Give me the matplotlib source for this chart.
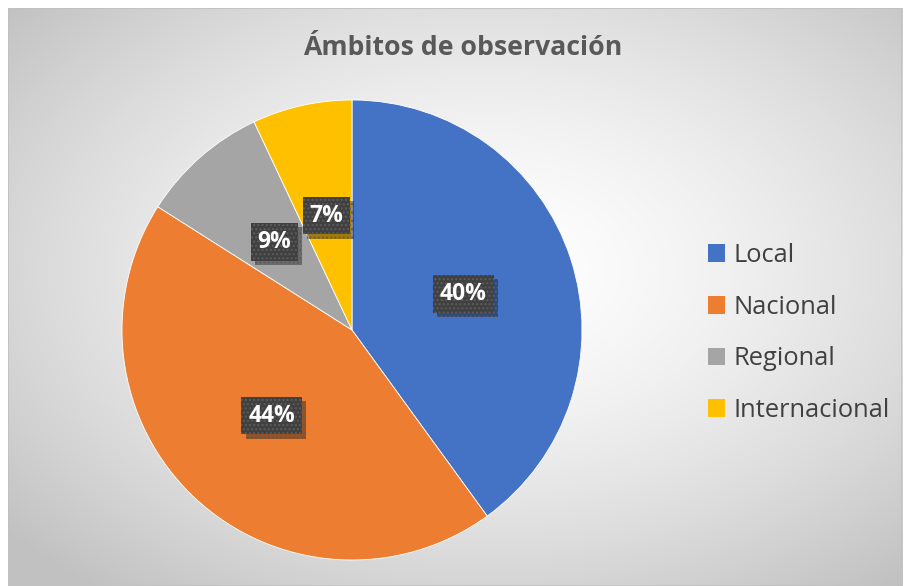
import numpy as np
import matplotlib.pyplot as plt
from matplotlib import patheffects
from matplotlib.patches import Rectangle

categories = ["Local", "Nacional", "Regional", "Internacional"]
values = [40, 44, 9, 7]
colors = ["#4472c4", "#ed7d31", "#a5a5a5", "#ffc000"]
title = "Ámbitos de observación"

W, H = 906, 586
fig = plt.figure(figsize=(W / 100, H / 100), dpi=100)
plt.rcParams['font.family'] = ['Open Sans', 'DejaVu Sans']

# chart area background with radial gradient
x0, y0, x1, y1 = 8, 8, 902, 586
bg = fig.add_axes([x0 / W, 0, (x1 - x0) / W, (y1 - y0) / H])
bg.set_axis_off()
yy, xx = np.mgrid[0:200, 0:300]
dx = (xx - 160) / 150
dy = (yy - 90) / 100
d = np.sqrt(dx ** 2 + dy ** 2) / np.sqrt(2)
g = 255 - 62 * np.clip(d, 0, 1) ** 1.5
img = np.dstack([g, g, g]) / 255
bg.imshow(img, aspect='auto', extent=[0, 1, 0, 1], origin='upper')
bg.set_xlim(0, 1)
bg.set_ylim(0, 1)
bg.add_patch(Rectangle((0, 0), 1, 1, transform=bg.transAxes, fill=False,
                       edgecolor="#c0c0c0", lw=1.2))

# pie
cx, cy, r = 352, 330, 230
ax = fig.add_axes([(cx - r) / W, (H - cy - r) / H, 2 * r / W, 2 * r / H])
wedges, texts, autotexts = ax.pie(
    values, colors=colors, startangle=90, counterclock=False,
    autopct='%1.0f%%', pctdistance=0.51, radius=1,
    wedgeprops=dict(linewidth=0.6, edgecolor='white'),
    textprops=dict(color='white', fontsize=16.5, fontweight='bold'))
ax.set_xlim(-1, 1)
ax.set_ylim(-1, 1)
ax.set_aspect('equal')
ax.set_axis_off()

for t in autotexts:
    t.set_bbox(dict(boxstyle='square,pad=0.3', facecolor='#404040',
                    edgecolor='#5c5c5c', linewidth=0, hatch='....'))
    t.get_bbox_patch().set_path_effects([
        patheffects.SimplePatchShadow(offset=(3, -3), shadow_rgbFace='black',
                                      alpha=0.35),
        patheffects.Normal()])

fig.text(463 / W, 1 - 48 / H, title, ha='center', va='center',
         fontsize=19.2, fontweight='bold', color='#595959')

# legend
handles = [Rectangle((0, 0), 1, 1, facecolor=c) for c in colors]
leg = fig.legend(handles, categories, loc='center left',
                 bbox_to_anchor=(685 / W, 1 - 333 / H), frameon=False,
                 fontsize=18.4, labelcolor='#404040', handlelength=0.68,
                 handleheight=0.68, handletextpad=0.33, labelspacing=1.04)

fig.savefig("out.png", dpi=100)
